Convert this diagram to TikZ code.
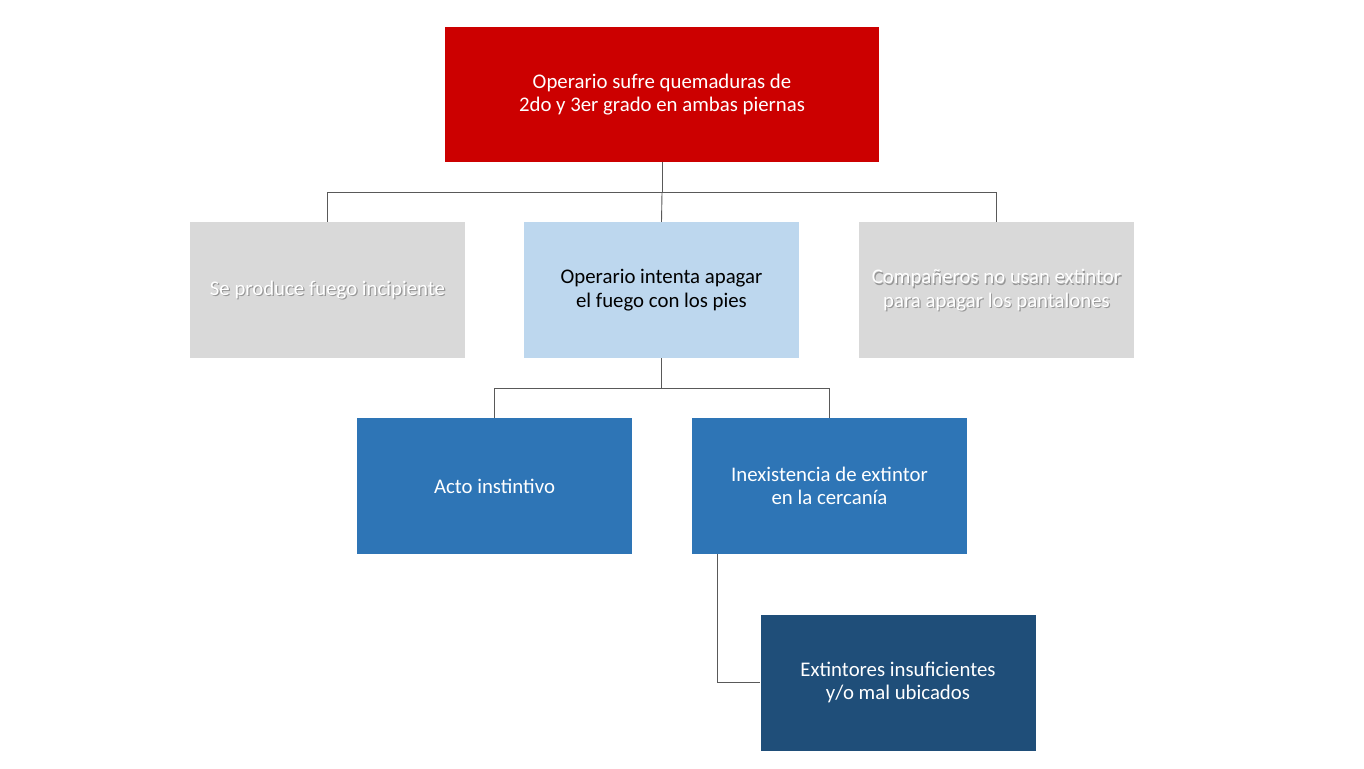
\documentclass[tikz,border=0pt]{standalone}
\usepackage{fontspec}
\setmainfont{Carlito}
\begin{document}
\begin{tikzpicture}[x=1pt,y=-1pt,
  box/.style={draw=none,minimum width=275pt,minimum height=136pt,inner sep=0pt,align=center,font=\fontsize{20.8}{23.5}\selectfont},
  shadowtxt/.style={box,fill=none,text=black,opacity=0.3},
  conn/.style={draw=black!65,line width=0.9pt}]
\useasboundingbox (0,0) rectangle (1364,768);
\fill[white] (0,0) rectangle (1364,768);
% top
\node[box,minimum width=434pt,minimum height=135pt,fill={rgb,255:red,204;green,0;blue,0},text=white] (top) at (662,94.5) {Operario sufre quemaduras de\\2do y 3er grado en ambas piernas};
% row 2
\node[box,fill={rgb,255:red,217;green,217;blue,217}] (l2) at (327.5,290) {};
\node[shadowtxt] at (328.7,291.5) {Se produce fuego incipiente};
\node[box,text=white] (l2t) at (327.5,290) {Se produce fuego incipiente};
\node[box,fill={rgb,255:red,189;green,215;blue,238},text=black] (m2) at (661.5,290) {Operario intenta apagar\\el fuego con los pies};
\node[box,fill={rgb,255:red,217;green,217;blue,217}] (r2) at (996.5,290) {};
\node[shadowtxt] at (997.7,291.5) {Compañeros no usan extintor\\para apagar los pantalones};
\node[box,text=white] (r2t) at (996.5,290) {Compañeros no usan extintor\\para apagar los pantalones};
% row 3
\node[box,fill={rgb,255:red,46;green,117;blue,182},text=white] (l3) at (494.5,486) {Acto instintivo};
\node[box,fill={rgb,255:red,46;green,117;blue,182},text=white] (r3) at (829.5,486) {Inexistencia de extintor\\en la cercanía};
% row 4
\node[box,fill={rgb,255:red,31;green,78;blue,121},text=white] (b4) at (898,682.5) {Extintores insuficientes\\y/o mal ubicados};
% connectors
\draw[conn] (top.south) -- ++(0,30) coordinate (j1);
\draw[conn] (l2.north) |- (j1) -| (r2.north);
\draw[conn] (j1) -- (m2.north);
\draw[conn] (m2.south) -- ++(0,30) coordinate (j2);
\draw[conn] (l3.north) |- (j2) -| (r3.north);
\coordinate (c4) at ([xshift=26pt]r3.south west);
\draw[conn] (c4) |- (b4.west);
\end{tikzpicture}
\end{document}
